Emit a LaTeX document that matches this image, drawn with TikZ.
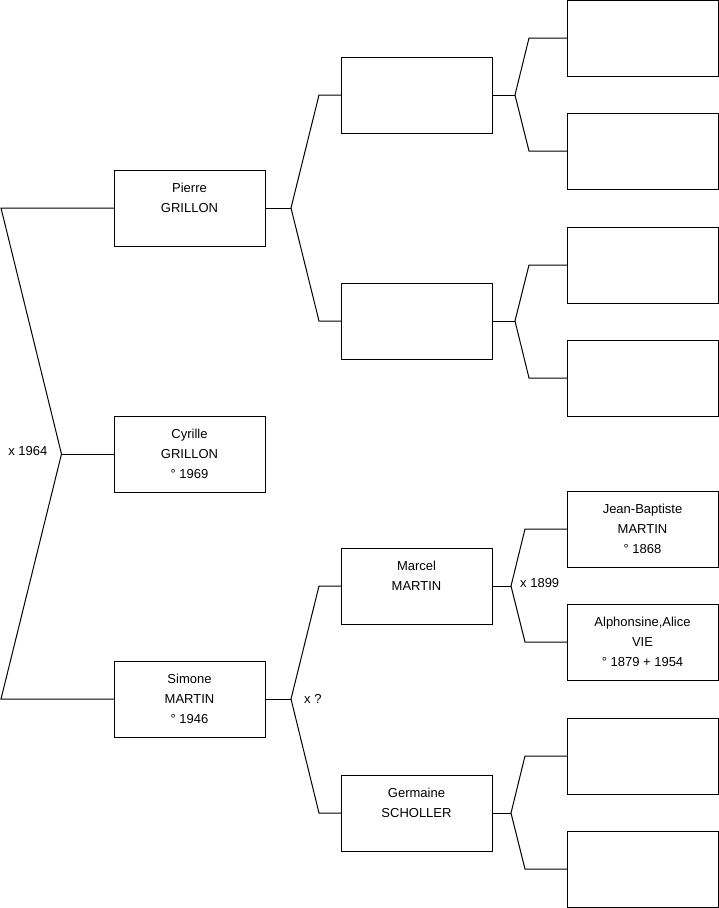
\documentclass[tikz,border=0pt]{standalone}
\usepackage{fontspec}
\setmainfont{Liberation Sans}
\usetikzlibrary{positioning}
\tikzset{
  fiche/.style={draw, line width=1pt, minimum width=151pt, minimum height=76pt, inner sep=0pt, outer sep=0pt, align=center, font=\fontsize{13}{20}\selectfont},
  lien/.style={line width=1pt},
  union/.style={inner sep=0pt, font=\fontsize{13}{20}\selectfont},
}
\begin{document}
\begin{tikzpicture}[x=1pt, y=-1pt]
  \useasboundingbox (0,0) rectangle (719,908);
  % generation 1
  \node[fiche] (pierre) at (189.5,208) {Pierre\\GRILLON\\\mbox{}};
  \node[fiche, below=170pt of pierre] (cyrille) {Cyrille\\GRILLON\\° 1969};
  \node[fiche, below=169pt of cyrille] (simone) {Simone\\MARTIN\\° 1946};
  % generation 2
  \node[fiche, right=76pt of pierre, yshift=113pt] (pp) {};
  \node[fiche, right=76pt of pierre, yshift=-113pt] (mp) {};
  \node[fiche, right=76pt of simone, yshift=113pt] (marcel) {Marcel\\MARTIN\\\mbox{}};
  \node[fiche, right=76pt of simone, yshift=-114pt] (germaine) {Germaine\\SCHOLLER\\\mbox{}};
  % generation 3
  \node[fiche, right=75pt of pp, yshift=57pt] (ppp) {};
  \node[fiche, right=75pt of pp, yshift=-56pt] (mpp) {};
  \node[fiche, right=75pt of mp, yshift=56pt] (pmp) {};
  \node[fiche, right=75pt of mp, yshift=-57pt] (mmp) {};
  \node[fiche, right=75pt of marcel, yshift=57pt] (jb) {Jean-Baptiste\\MARTIN\\° 1868};
  \node[fiche, right=75pt of marcel, yshift=-56pt] (alphonsine) {Alphonsine,Alice\\VIE\\° 1879 + 1954};
  \node[fiche, right=75pt of germaine, yshift=57pt] (pg) {};
  \node[fiche, right=75pt of germaine, yshift=-56pt] (mg) {};
  % liens
  \coordinate (g) at (1,0);
  \coordinate (f0) at (61.5,454);
  \draw[lien] (pierre.west) -- (pierre.west -| g) -- (f0) -- (simone.west -| g) -- (simone.west);
  \draw[lien] (f0) -- (cyrille.west);
  \node[union, left=14pt of f0, yshift=3pt] (u0) {x 1964};
  \draw[lien] (pierre.east) -- ++(26,0) coordinate (fp);
  \draw[lien] (pp.west) -- ++(-22,0) -- (fp) -- ([xshift=-22pt]mp.west) -- (mp.west);
  \draw[lien] (simone.east) -- ++(26,0) coordinate (fs);
  \draw[lien] (marcel.west) -- ++(-22,0) -- (fs) -- ([xshift=-22pt]germaine.west) -- (germaine.west);
  \node[union, right=13pt of fs] (us) {x ?};
  \draw[lien] (pp.east) -- ++(23,0) coordinate (fpp);
  \draw[lien] (ppp.west) -- ++(-38,0) -- (fpp) -- ([xshift=-38pt]mpp.west) -- (mpp.west);
  \draw[lien] (mp.east) -- ++(23,0) coordinate (fmp);
  \draw[lien] (pmp.west) -- ++(-38,0) -- (fmp) -- ([xshift=-38pt]mmp.west) -- (mmp.west);
  \draw[lien] (marcel.east) -- ++(19,0) coordinate (fm);
  \draw[lien] (jb.west) -- ++(-42,0) -- (fm) -- ([xshift=-42pt]alphonsine.west) -- (alphonsine.west);
  \node[union, right=9pt of fm, yshift=3pt] (um) {x 1899};
  \draw[lien] (germaine.east) -- ++(19,0) coordinate (fg);
  \draw[lien] (pg.west) -- ++(-42,0) -- (fg) -- ([xshift=-42pt]mg.west) -- (mg.west);
\end{tikzpicture}
\end{document}
